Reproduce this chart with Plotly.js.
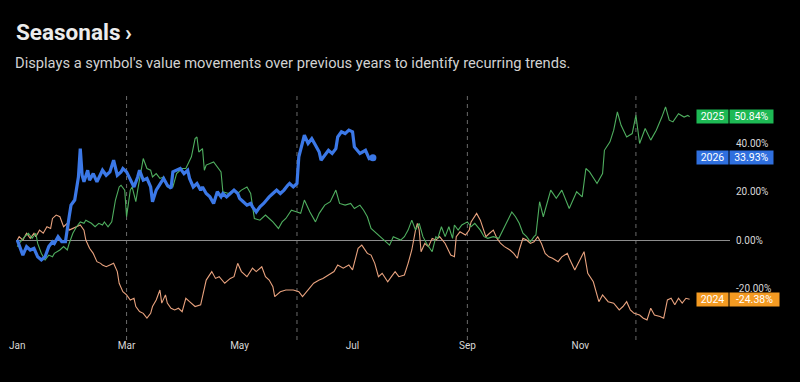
<!DOCTYPE html>
<html>
<head>
<meta charset="utf-8">
<script src="https://cdn.plot.ly/plotly-3.0.1.min.js"></script>
<style>
  html, body { margin: 0; padding: 0; background: #000; }
  #chart { width: 800px; height: 382px; }
</style>
</head>
<body>
<div id="chart"></div>
<script>
// ---- Data (day of year, % change) ----
const monthTickDays = [0, 59, 120, 181, 243, 304];
const monthTickLabels = ['Jan', 'Mar', 'May', 'Jul', 'Sep', 'Nov'];
const quarterMarkerDays = [59, 151, 243, 334];
const yTicks = [-20, 0, 20, 40];

const days2024 = [0,1,3,5,7,9,10,12,14,16,18,19,21,23,25,27,28,30,32,34,36,37,39,41,43,45,46,48,50,52,54,55,57,59,61,63,64,66,68,70,72,73,75,77,78,80,81,83,85,87,89,91,93,96,99,101,102,105,107,109,112,115,117,119,121,124,127,129,132,134,136,138,139,142,145,149,152,154,157,160,163,165,168,171,173,176,179,181,184,186,189,191,193,195,197,199,200,202,204,206,209,211,213,215,216,217,218,220,222,224,226,228,231,234,236,237,239,242,244,245,248,250,252,253,255,257,259,261,263,266,268,270,271,273,275,277,279,281,283,285,287,289,292,294,297,298,301,304,306,308,311,314,316,319,322,325,327,329,331,333,336,338,340,342,344,347,349,351,353,355,357,359,361,363];
const values2024 = [0,1.4,0,2.8,0.7,2.8,1.4,4.1,2.8,5.5,4.8,8.9,10.3,9.6,5.5,6.9,4.1,4.8,5.5,6.2,4.1,0,-3.4,-5.5,-8.9,-9.6,-10.3,-11,-10.3,-9.6,-13,-17.8,-21.3,-22.6,-24.7,-24,-27.4,-29.5,-30.2,-32.2,-30.2,-27.4,-24.7,-20.6,-26,-22.6,-26,-28.1,-28.8,-28.1,-29.5,-24,-25.4,-27.4,-26.7,-20.6,-16.5,-13,-15.8,-15.1,-17.8,-15.8,-15.1,-9.6,-13,-15.1,-11.6,-13,-11,-15.1,-16.5,-19.2,-23.3,-21.3,-20.6,-20.6,-21.3,-23.3,-20.6,-17.8,-16.5,-15.8,-14.4,-13,-10.3,-11.6,-10.3,-12.3,-3.4,-2.1,-5.5,-6.2,-9.6,-15.1,-13.7,-15.8,-17.2,-15.1,-13,-15.1,-14.4,-9.6,-4.1,4.1,6.9,4.1,-4.8,-1.4,-2.7,0.7,0,1.4,-1.4,-6.2,-6.9,1.4,3.4,2.1,4.1,7.5,11,8.2,4.1,1.4,2.8,4.1,0.7,-1.4,-2.7,-4.1,-5.5,-7.5,-4.1,0.7,0,-1.4,-0.7,1.4,-1.4,-5.5,-6.9,-7.5,-8.9,-6.9,-5.5,-7.5,-12.3,-7.5,-4.8,-13.7,-17.2,-25.4,-22.6,-25.4,-26,-28.8,-27.4,-25.4,-28.8,-30.2,-30.9,-32.2,-32.9,-28.1,-30.9,-31.5,-32.2,-24.7,-24,-26.7,-24,-26,-24,-24.38];

const days2025 = [0,1,4,6,8,10,11,13,15,17,19,20,23,25,27,28,30,32,34,36,37,40,42,44,46,47,49,51,53,55,56,58,59,61,62,64,65,67,68,70,72,73,75,77,79,81,84,86,89,91,94,96,97,98,100,101,102,106,108,110,111,114,117,119,121,124,126,128,131,134,136,138,141,143,145,148,151,153,155,158,161,163,166,169,172,174,177,180,182,185,187,189,191,194,198,201,203,207,209,211,213,215,217,219,221,224,226,227,229,231,233,235,236,238,240,243,245,247,250,252,254,257,260,262,264,267,269,271,273,275,277,279,280,282,284,288,291,294,298,302,305,307,309,313,316,317,320,322,324,326,329,332,334,336,339,342,345,348,350,352,354,357,360,362,363];
const values2025 = [-2.7,-1.4,1.4,2.8,0.7,2.8,-1.4,-5.5,-8.2,-6.2,-6.9,-5.5,-4.1,-2.7,-4.1,-1.4,2.8,5.5,7.5,6.9,8.2,6.9,5.5,6.9,6.2,7.5,5.5,7.5,16.5,21.9,22.6,20.6,9.6,20.6,21.9,15.8,20.6,28.8,33.6,29.5,28.8,26,27.4,25.4,26,21.9,21.9,27.4,29.5,29.5,34.3,41.8,42.5,36.3,37.7,28.8,30.9,32.2,30.2,28.1,19.9,19.2,20.6,19.2,20.6,21.9,19.2,8.9,8.2,10.3,8.9,7.5,4.8,7.5,8.9,12.3,11.6,11,16.5,11.6,7.5,11,14.4,15.8,20.6,15.1,14.4,15.1,13,14.4,12.3,9.6,4.8,2.8,0,-2.1,1.4,0,1.4,4.1,8.2,4.1,6.9,1.4,-1.4,-4.8,1.4,0.7,5.5,1.4,5.5,0.7,6.2,4.1,6.2,7.5,5.5,6.9,4.1,1.4,0.7,1.4,0.7,4.1,6.9,11.6,9.6,6.9,2.8,1.4,-0.7,1.4,2.1,15.8,9.6,20.6,17.2,20.6,13,19.9,17.8,29.5,28.1,23.3,27.4,37,40.5,45.3,52.8,47.3,42.5,43.9,51.4,39.8,46,41.2,45.3,50.7,54.9,49.4,48.7,52.1,50.7,51.4,50.84];

const days2026 = [0,2,3,5,7,9,11,13,15,17,19,20,22,24,26,28,29,31,32,33,34,35,36,38,39,41,43,45,46,48,50,52,54,56,57,59,61,63,65,66,68,70,72,73,75,77,79,81,83,84,86,88,90,92,93,95,97,99,100,102,104,106,108,110,111,113,115,117,119,120,122,124,126,127,129,131,133,135,136,138,140,142,144,146,147,149,151,152,154,155,157,159,161,163,164,166,168,170,172,173,175,177,179,181,182,185,188,190,192];
const values2026 = [0,-4.1,-6.2,-2.7,-4.1,-3.4,-6.9,-8.2,-6.9,-2.7,-0.7,-1.4,1.4,-0.7,-0.7,9.6,14.4,16.5,21.9,26,37.7,26.7,24,28.8,24.7,27.4,24,27.4,28.8,26.7,28.1,32.9,26.7,28.1,29.5,28.1,24.7,21.9,26,28.8,24.7,25.4,21.9,15.8,20.6,23.3,25.4,22.6,21.3,28.1,28.8,29.5,27.4,28.8,25.4,21.9,23.3,20.6,21.9,19.2,17.8,15.1,19.9,17.8,19.2,17.8,19.2,20.6,19.2,17.2,15.8,14.4,15.1,13.7,11.6,13.7,15.1,17.2,17.8,19.2,20.6,19.2,20.6,22.6,23.3,21.9,23.3,34.3,39.8,43.2,39.8,41.8,39.1,36.3,32.9,35,37,35.7,37.7,42.5,44.6,43.9,45.3,44.6,38.4,35.7,37,33.6,33.93];

const seriesNames = ['2024', '2025', '2026'];
const lineColors = ['#e8a27e', '#4fae5f', '#3b78e7'];
const badgeColors = ['#f39a22', '#1db954', '#2f6fde'];

// ---- Build ----
const allDays = [days2024, days2025, days2026];
const allVals = [values2024, values2025, values2026];

const traces = allDays.map((d, i) => ({
  type: 'scatter', mode: 'lines', x: d, y: allVals[i], name: seriesNames[i],
  line: { color: lineColors[i], width: i === 2 ? 3.2 : 1.1, shape: 'linear' },
  hoverinfo: 'skip'
}));
// end dot on the current year
traces.push({
  type: 'scatter', mode: 'markers',
  x: [days2026[days2026.length - 1]], y: [values2026[values2026.length - 1]],
  marker: { color: lineColors[2], size: 7 }, hoverinfo: 'skip'
});

const shapes = quarterMarkerDays.map(d => ({
  type: 'line', xref: 'x', yref: 'paper', x0: d, x1: d, y0: 0, y1: 1,
  line: { color: '#6a6a6a', width: 1, dash: '4px,4px' }, layer: 'below'
}));

const annotations = [{
  xref: 'paper', yref: 'paper', x: 0, y: 1.1306, xanchor: 'left', yanchor: 'middle',
  xshift: -2, borderpad: 0,
  text: "Displays a symbol's value movements over previous years to identify recurring trends.",
  showarrow: false, font: { family: 'Roboto', size: 14.7, color: '#d2d2d2' }
}];

const fmt = v => v.toFixed(2) + '%';
allVals.forEach((vals, i) => {
  const last = vals[vals.length - 1];
  const valText = fmt(last);
  annotations.push({
    xref: 'paper', yref: 'y', x: 0.9524, y: last, xanchor: 'left', yanchor: 'middle',
    text: seriesNames[i], showarrow: false, width: 31, height: 13, bgcolor: badgeColors[i],
    borderpad: 0, font: { family: 'Roboto', size: 10.5, color: '#ffffff' }, align: 'center'
  });
  annotations.push({
    xref: 'paper', yref: 'y', x: 0.9986, y: last, xanchor: 'left', yanchor: 'middle',
    text: valText, showarrow: false, width: valText.length * 6.3 + 5, height: 13, bgcolor: badgeColors[i],
    borderpad: 0, font: { family: 'Roboto', size: 10.5, color: '#ffffff' }, align: 'center'
  });
});

const layout = {
  width: 800, height: 382,
  paper_bgcolor: '#000', plot_bgcolor: '#000',
  margin: { l: 16, r: 70, t: 95, b: 42 },
  showlegend: false,
  font: { family: 'Roboto', color: '#dddddd' },
  title: {
    text: '<b>Seasonals</b>\u2009<b>›</b>', x: 16 / 800, xanchor: 'left', xref: 'container',
    y: 1 - 32 / 382, yanchor: 'middle', yref: 'container',
    font: { family: 'Roboto', size: 22.5, color: '#ececec' }
  },
  xaxis: {
    range: [-0.7, 384.8], showgrid: false, zeroline: false, showline: false,
    tickvals: monthTickDays, ticktext: monthTickLabels, ticks: '',
    ticklabelstandoff: -2,
    tickfont: { family: 'Roboto', size: 10, color: '#d8d8d8' }, fixedrange: true
  },
  yaxis: {
    range: [-41.2, 59.8], side: 'right', showgrid: false, showline: false,
    zeroline: true, zerolinecolor: '#8c8c8c', zerolinewidth: 1,
    tickvals: yTicks, ticktext: yTicks.map(fmt), ticks: '',
    ticklabelstandoff: 5,
    tickfont: { family: 'Roboto', size: 10, color: '#d8d8d8' }, fixedrange: true
  },
  shapes: shapes,
  annotations: annotations
};

Plotly.newPlot('chart', traces, layout, { displayModeBar: false, staticPlot: true });
</script>
</body>
</html>
